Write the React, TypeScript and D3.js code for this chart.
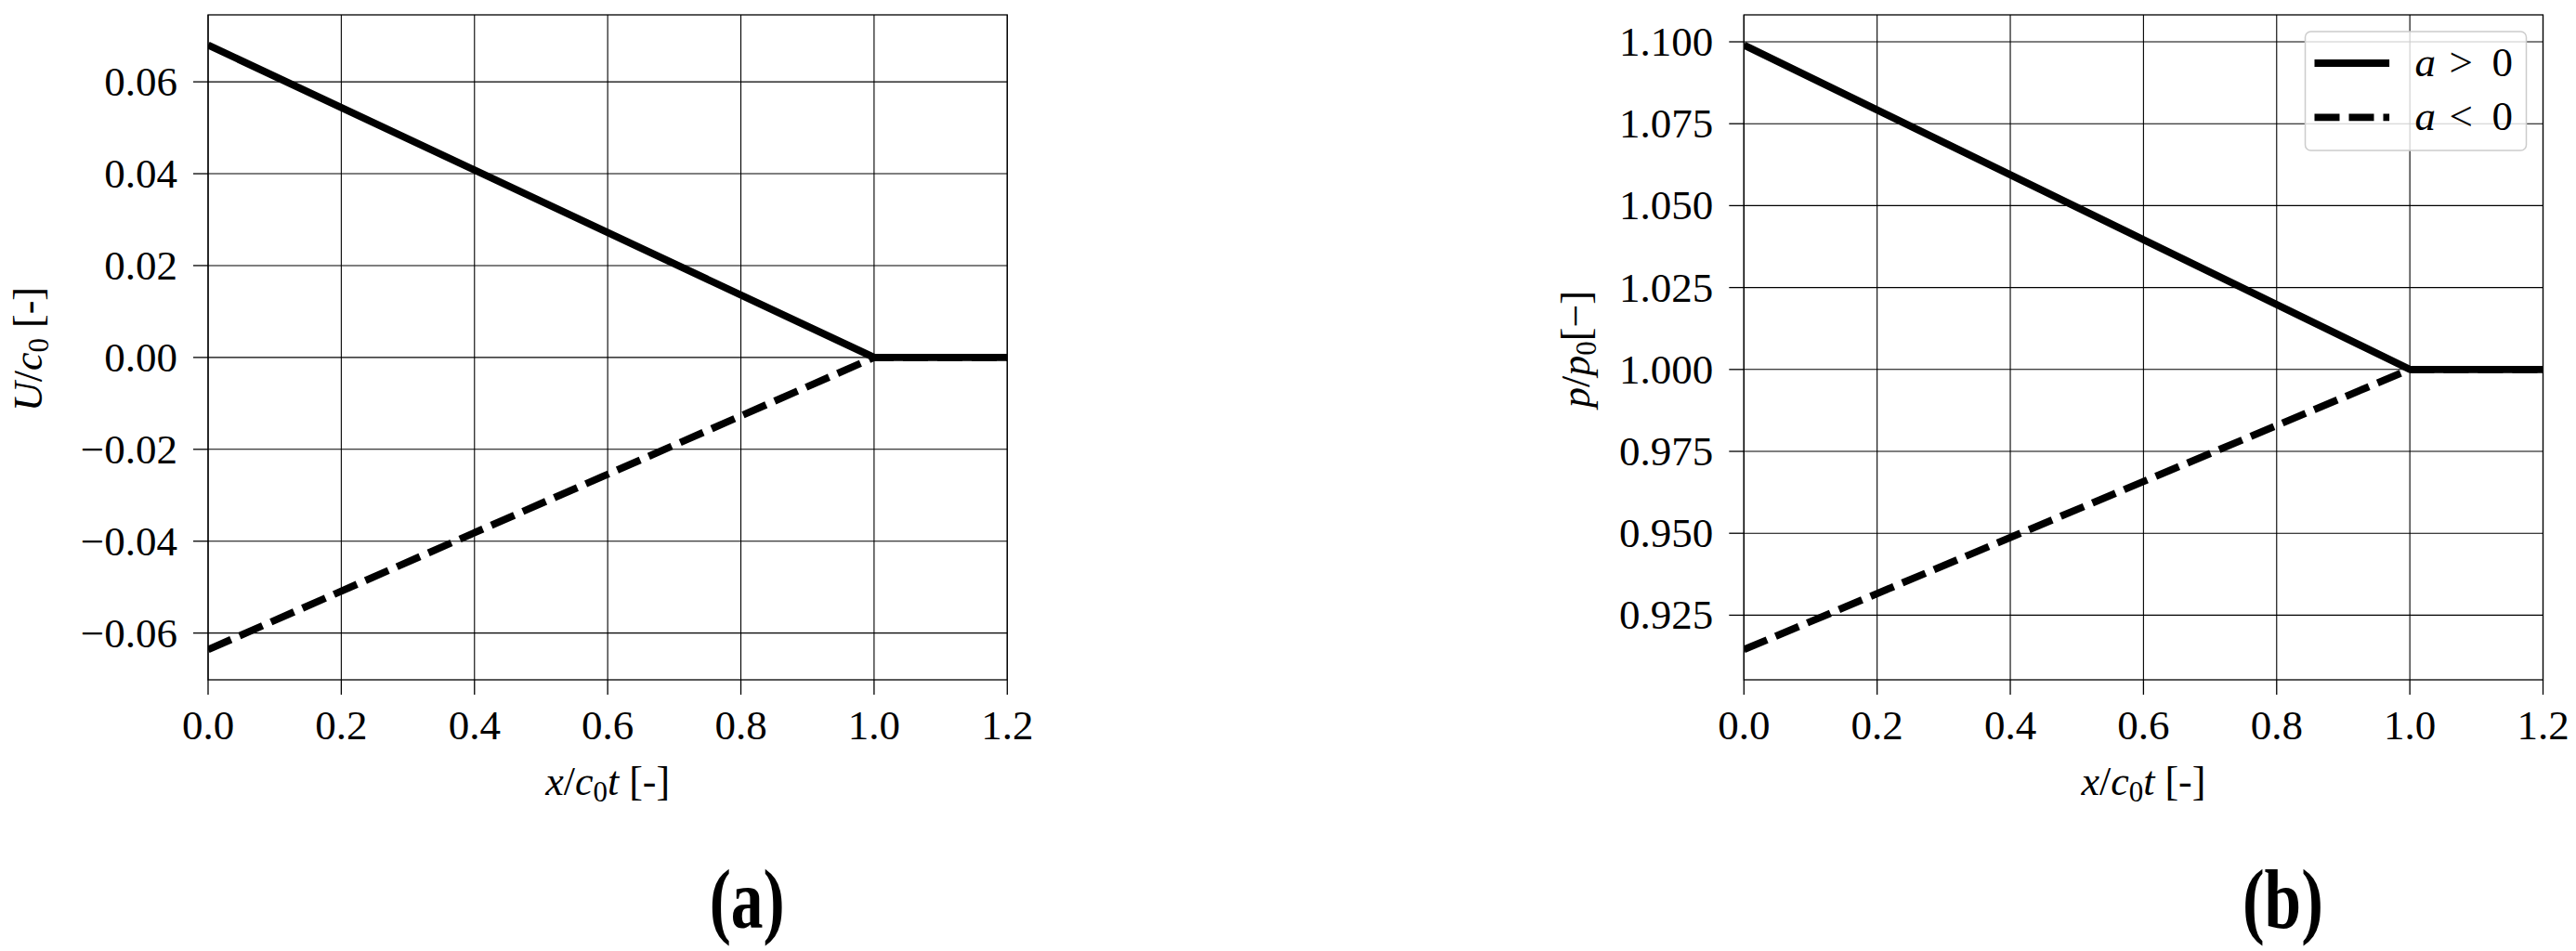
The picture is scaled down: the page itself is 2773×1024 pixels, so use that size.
import * as React from "react";
import { scaleLinear, line, extent, format } from "d3";

// chart values
const xValues = [0, 1.0, 1.2];
const uPositive = [0.068, 0, 0];
const uNegative = [-0.0636, 0, 0];
const pPositive = [1.099, 1.0, 1.0];
const pNegative = [0.9145, 1.0, 1.0];

const xTicks = [0, 0.2, 0.4, 0.6, 0.8, 1.0, 1.2];
const uTicks = [-0.06, -0.04, -0.02, 0, 0.02, 0.04, 0.06];
const pTicks = [0.925, 0.95, 0.975, 1.0, 1.025, 1.05, 1.075, 1.1];
const legendLabels = ["a > 0", "a < 0"];
const captions = ["(a)", "(b)"];

const FONT = "'Liberation Serif', 'Times New Roman', serif";
const TICK_FS = 45;
const LABEL_FS = 44;
const SUB_FS = 31;
const LINE_W = 7.8;

const W = 2773;
const H = 1024;
const TOP = 16;
const BOTTOM = 732;

function padDomain(a: number[], b: number[]) {
  const [lo, hi] = extent([...a, ...b]) as [number, number];
  const m = (hi - lo) * 0.05;
  return [lo - m, hi + m];
}

type PanelProps = {
  id: string;
  left: number;
  right: number;
  pos: number[];
  neg: number[];
  yTicks: number[];
  yFmt: (v: number) => string;
  ylabel: React.ReactNode;
  ylabelX: number;
  caption: string;
  captionLen: number;
  legend?: boolean;
};

function Panel(props: PanelProps) {
  const { id, left, right, pos, neg, yTicks, yFmt, ylabel, ylabelX, caption, captionLen, legend } = props;
  const x = scaleLinear().domain([0, 1.2]).range([left, right]);
  const y = scaleLinear().domain(padDomain(pos, neg)).range([BOTTOM, TOP]);
  const xFmt = format(".1f");

  const path = line<number>()
    .x((_, i) => x(xValues[i]))
    .y((v) => y(v));

  const tickLen = 16;
  const cx = (left + right) / 2;

  // legend box
  const lw = 238;
  const lh = 128;
  const lx = right - 18 - lw;
  const ly = TOP + 18;

  return (
    <g>
      <defs>
        <clipPath id={id}>
          <rect x={left} y={TOP} width={right - left} height={BOTTOM - TOP} />
        </clipPath>
      </defs>

      {/* grid */}
      <g stroke="#000" strokeWidth={1.1}>
        {xTicks.map((t) => (
          <line key={"gx" + t} x1={x(t)} x2={x(t)} y1={TOP} y2={BOTTOM} />
        ))}
        {yTicks.map((t) => (
          <line key={"gy" + t} x1={left} x2={right} y1={y(t)} y2={y(t)} />
        ))}
      </g>

      {/* data lines */}
      <g clipPath={`url(#${id})`} fill="none" stroke="#000">
        <path d={path(neg) || ""} strokeWidth={LINE_W} strokeDasharray="27,10" />
        <path d={path(pos) || ""} strokeWidth={LINE_W} strokeLinejoin="round" />
      </g>

      {/* spines */}
      <rect x={left} y={TOP} width={right - left} height={BOTTOM - TOP} fill="none" stroke="#000" strokeWidth={1.3} />

      {/* x ticks */}
      <g fontFamily={FONT} fontSize={TICK_FS} textAnchor="middle">
        {xTicks.map((t) => (
          <g key={"tx" + t}>
            <line x1={x(t)} x2={x(t)} y1={BOTTOM} y2={BOTTOM + tickLen} stroke="#000" strokeWidth={1.3} />
            <text x={x(t)} y={796}>{xFmt(t)}</text>
          </g>
        ))}
      </g>

      {/* y ticks */}
      <g fontFamily={FONT} fontSize={TICK_FS} textAnchor="end">
        {yTicks.map((t) => (
          <g key={"ty" + t}>
            <line x1={left - tickLen} x2={left} y1={y(t)} y2={y(t)} stroke="#000" strokeWidth={1.3} />
            <text x={left - tickLen - 17} y={y(t) + 15}>{yFmt(t)}</text>
          </g>
        ))}
      </g>

      {/* x label */}
      <text x={cx} y={856} fontFamily={FONT} fontSize={LABEL_FS} textAnchor="middle">
        <tspan fontStyle="italic">x</tspan>/<tspan fontStyle="italic">c</tspan>
        <tspan fontSize={SUB_FS} dy={7}>0</tspan>
        <tspan dy={-7} fontStyle="italic">t</tspan>
        <tspan> [-]</tspan>
      </text>

      {/* y label */}
      <text
        transform={`translate(${ylabelX},${(TOP + BOTTOM) / 2 + 2}) rotate(-90)`}
        fontFamily={FONT}
        fontSize={LABEL_FS}
        textAnchor="middle"
        dy={14}
      >
        {ylabel}
      </text>

      {legend && (
        <g fontFamily={FONT} fontSize={TICK_FS}>
          <rect x={lx} y={ly} width={lw} height={lh} rx={6} fill="#fff" fillOpacity={0.8} stroke="#ccc" strokeWidth={1.5} />
          {legendLabels.map((lab, i) => {
            const rowY = ly + 34 + i * 58.3;
            const [v, rel, n] = lab.split(" ");
            return (
              <g key={lab}>
                <line
                  x1={lx + 10}
                  x2={lx + 90.6}
                  y1={rowY}
                  y2={rowY}
                  stroke="#000"
                  strokeWidth={LINE_W}
                  strokeDasharray={i === 1 ? "27,10" : undefined}
                />
                <text y={rowY + 14}>
                  <tspan x={lx + 118} fontStyle="italic">{v}</tspan>
                  <tspan x={lx + 155}>{rel}</tspan>
                  <tspan x={lx + 201}>{n}</tspan>
                </text>
              </g>
            );
          })}
        </g>
      )}

      {/* caption */}
      <text
        x={cx + 150}
        y={999}
        fontFamily={FONT}
        fontSize={92}
        fontWeight="bold"
        textAnchor="middle"
        textLength={captionLen}
        lengthAdjust="spacingAndGlyphs"
      >
        {caption}
      </text>
    </g>
  );
}

export default function App() {
  const fmtU = format(".2f");
  const fmtP = format(".3f");
  return (
    <svg
      width={W}
      height={H}
      viewBox={`0 0 ${W} ${H}`}
      style={{ position: "absolute", left: 0, top: 0, display: "block", background: "#fff" }}
    >
      <rect width={W} height={H} fill="#fff" />
      <Panel
        id="clipA"
        left={224}
        right={1084.3}
        pos={uPositive}
        neg={uNegative}
        yTicks={uTicks}
        yFmt={(v) => fmtU(v)}
        ylabelX={31}
        caption={captions[0]}
        captionLen={81}
        ylabel={
          <>
            <tspan fontStyle="italic">U</tspan>/<tspan fontStyle="italic">c</tspan>
            <tspan fontSize={SUB_FS} dy={7}>0</tspan>
            <tspan dy={-7}> [-]</tspan>
          </>
        }
      />
      <Panel
        id="clipB"
        left={1877.3}
        right={2737.5}
        pos={pPositive}
        neg={pNegative}
        yTicks={pTicks}
        yFmt={(v) => fmtP(v)}
        ylabelX={1697}
        caption={captions[1]}
        captionLen={87}
        legend
        ylabel={
          <>
            <tspan fontStyle="italic">p</tspan>/<tspan fontStyle="italic">p</tspan>
            <tspan fontSize={SUB_FS} dy={7}>0</tspan>
            <tspan dy={-7}>[−]</tspan>
          </>
        }
      />
    </svg>
  );
}
